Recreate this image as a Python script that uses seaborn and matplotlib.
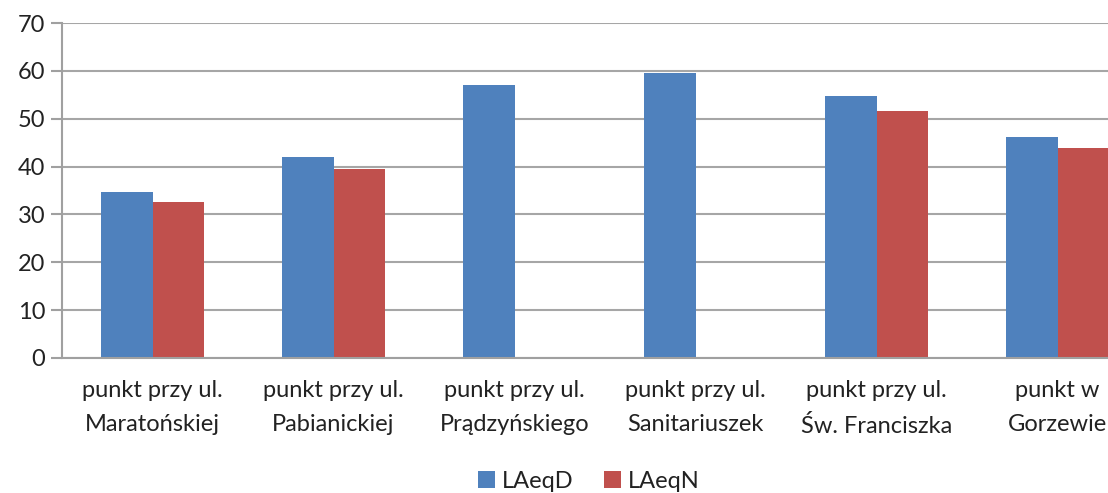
import matplotlib
matplotlib.use("Agg")
import matplotlib.pyplot as plt
import seaborn as sns
import pandas as pd
import numpy as np
from matplotlib.patches import Patch

categories = ["punkt przy ul.\nMaratońskiej", "punkt przy ul.\nPabianickiej",
              "punkt przy ul.\nPrądzyńskiego", "punkt przy ul.\nSanitariuszek",
              "punkt przy ul.\nŚw. Franciszka", "punkt w\nGorzewie"]
laeqd = [34.7, 41.9, 57.1, 59.6, 54.8, 46.2]
laeqn = [32.5, 39.5, np.nan, np.nan, 51.7, 43.9]
series = ["LAeqD", "LAeqN"]
colors = ["#4F81BD", "#C0504D"]
yticks = [0, 10, 20, 30, 40, 50, 60, 70]

df = pd.DataFrame({
    "cat": categories * 2,
    "val": laeqd + laeqn,
    "series": [series[0]] * len(categories) + [series[1]] * len(categories),
})

sns.set_theme(style="white")
plt.rcParams['font.family'] = ['Lato', 'DejaVu Sans']

W, H = 1108, 493
fig = plt.figure(figsize=(W / 100, H / 100), dpi=100)
x0, x1 = 62, 1148
ytop, ybot = 23, 358
ax = fig.add_axes([x0 / W, (H - ybot) / H, (x1 - x0) / W, (ybot - ytop) / H])

sns.barplot(data=df, x="cat", y="val", hue="series", order=categories,
            hue_order=series, palette=colors, width=0.57, errorbar=None,
            saturation=1, ax=ax, legend=False, linewidth=0)

ax.set_xlim(-0.5, len(categories) - 0.5)
ax.set_ylim(0, 70)
ax.set_yticks(yticks)
ax.set_yticklabels([str(t) for t in yticks])
ax.yaxis.grid(True, color="#a6a6a6", linewidth=1.5)
ax.set_axisbelow(True)
for s in ["top", "right"]:
    ax.spines[s].set_visible(False)
for s in ["left", "bottom"]:
    ax.spines[s].set_color("#a0a0a0")
    ax.spines[s].set_linewidth(1.5)

fs = 17
ax.set_xlabel("")
ax.set_ylabel("")
ax.set_xticks(np.arange(-0.5, len(categories), 1.0), minor=True)
ax.tick_params(axis="x", which="major", length=0, pad=16, labelsize=fs, labelcolor="#222222")
ax.tick_params(axis="x", which="minor", length=8, width=1.5, color="#a0a0a0", direction="out")
ax.tick_params(axis="y", length=8, width=1.5, color="#a0a0a0", direction="out",
               labelsize=fs, labelcolor="#222222", pad=4, left=True)
for lab in ax.get_xticklabels():
    lab.set_linespacing(1.75)

handles = [Patch(facecolor=c, edgecolor="none") for c in colors]
fig.legend(handles, series, loc="center", bbox_to_anchor=(589 / W, (H - 481) / H),
           ncol=2, frameon=False, fontsize=fs, handlelength=0.7, handleheight=0.7,
           handletextpad=0.3, columnspacing=1.3, labelcolor="#222222")

fig.savefig("out.png", dpi=100)
